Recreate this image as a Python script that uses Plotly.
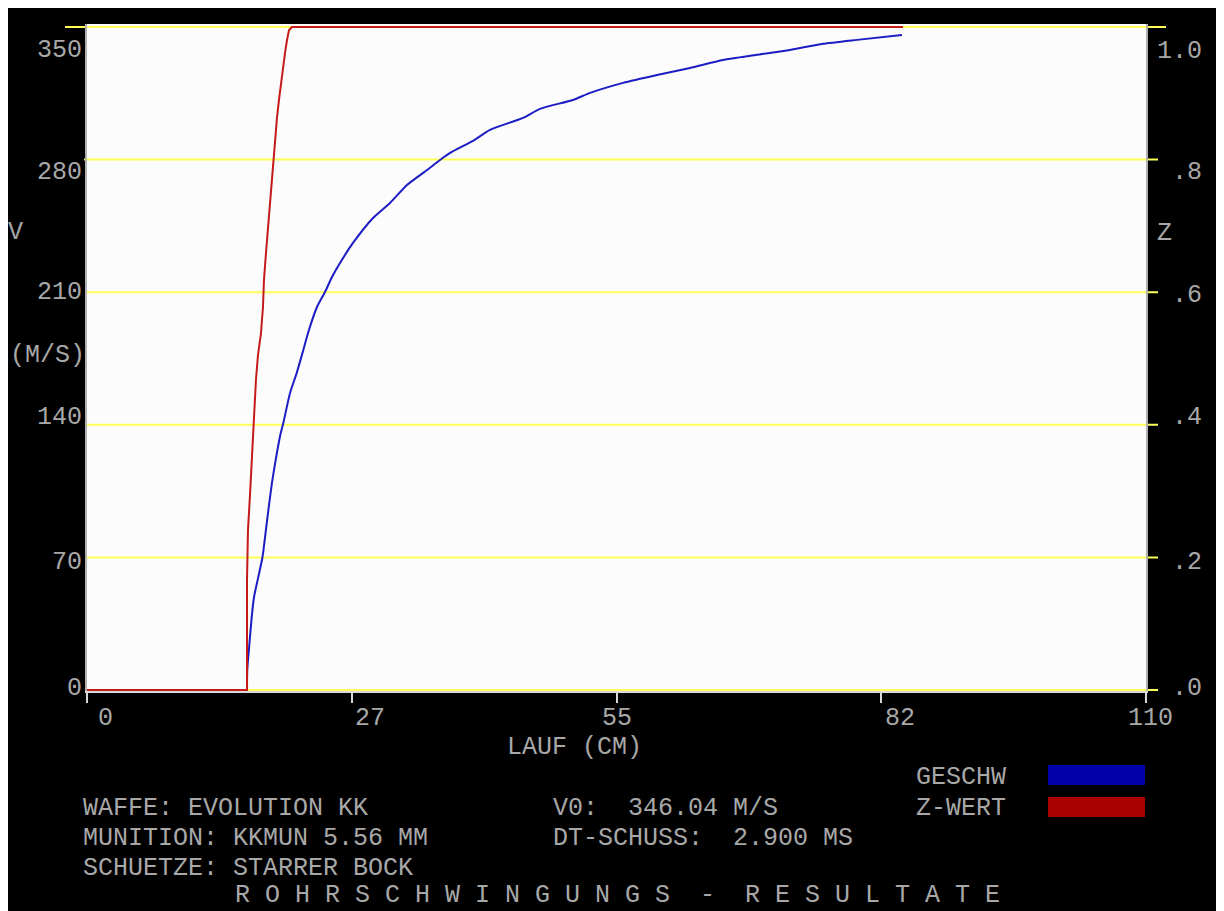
import plotly.graph_objects as go

# ---------------- data ----------------
X_GESCHW = [16.62, 16.65, 16.86, 17.11, 17.35, 17.79, 18.23, 18.67, 19.19, 19.53,
            20.05, 20.39, 21.09, 21.78, 22.47, 22.96, 23.89, 24.72, 25.45, 26.28,
            27.63, 29.71, 31.47, 33.24, 35.32, 36.67, 37.71, 40.09, 41.86, 45.29,
            47.05, 50.48, 52.25, 55.68, 59.21, 62.64, 66.06, 69.59, 73.02, 76.45,
            79.98, 84.65]
V_GESCHW = [0.0, 10.6, 23.8, 38.5, 49.1, 59.6, 70.2, 88.1, 108.6, 119.4,
            134.0, 140.9, 156.8, 167.3, 179.5, 188.5, 202.2, 210.1, 218.0, 225.4,
            236.0, 249.2, 257.1, 266.6, 274.5, 279.8, 283.5, 289.9, 295.7, 302.0,
            306.8, 311.5, 315.2, 320.5, 324.7, 328.4, 332.6, 335.3, 337.9, 341.1,
            343.2, 345.8]

X_ZWERT = [0.0, 16.62, 16.62, 16.72, 16.93, 17.09, 17.35, 17.55, 17.76, 18.07,
           18.28, 18.38, 18.59, 18.80, 19.01, 19.22, 19.37, 19.53, 19.74, 19.94,
           20.15, 20.36, 20.57, 20.77, 20.98, 21.29, 84.76]
Z_WERT = [0.0, 0.0, 0.166, 0.241, 0.294, 0.344, 0.407, 0.468, 0.505, 0.538,
          0.578, 0.618, 0.659, 0.698, 0.739, 0.780, 0.804, 0.834, 0.864, 0.890,
          0.916, 0.940, 0.961, 0.980, 0.995, 1.0, 1.0]

X_TICKS = [0, 27.5, 55, 82.5, 110]
X_TICK_LABELS = ["0", "27", "55", "82", "110"]
V_TICKS = [0, 70, 140, 210, 280, 350]
V_TICK_LABELS = ["0", "70", "140", "210", "280", "350"]
Z_TICK_LABELS = [".0", ".2", ".4", ".6", ".8", "1.0"]

INFO_LEFT = ["WAFFE: EVOLUTION KK", "MUNITION: KKMUN 5.56 MM", "SCHUETZE: STARRER BOCK"]
INFO_MID = ["V0:  346.04 M/S", "DT-SCHUSS:  2.900 MS"]
TITLE = "R O H R S C H W I N G U N G S  -  R E S U L T A T E"
LEGEND_NAMES = ["GESCHW", "Z-WERT"]

# ---------------- styling / layout ----------------
# page offset of the figure (browser body margin)
OX, OY = 8, 8
W, H = 1211, 903
# plot area in page pixels
PL, PR, PT, PB = 87, 1146, 24, 691
V_MIN, V_MAX = -0.528, 351.584
FONT = dict(family="Liberation Mono, DejaVu Sans Mono, monospace", size=25, color="#a8a8a8")
YELLOW = "#ffff55"
BLUE_LINE, RED_LINE = "#1c1cc4", "#c41a1a"
BLUE_BOX, RED_BOX = "#0000aa", "#aa0000"


def fx(px):
    return (px - PL) / (PR - PL)


def fy(py):
    return (PB - py) / (PB - PT)


fig = go.Figure()
fig.add_trace(go.Scatter(x=X_ZWERT, y=Z_WERT, yaxis="y2", mode="lines",
                         line=dict(color=RED_LINE, width=2), name=LEGEND_NAMES[1],
                         showlegend=False))
fig.add_trace(go.Scatter(x=X_GESCHW, y=V_GESCHW, mode="lines",
                         line=dict(color=BLUE_LINE, width=2, shape="spline", smoothing=0.6),
                         name=LEGEND_NAMES[0], showlegend=False))

shapes = []
# yellow grid lines (extend past the plot frame as in the original)
grid_left = [87, 85, 85, 85, 84, 65]
grid_right = [1158, 1158, 1158, 1158, 1158, 1166]
for v, x0, x1 in zip(V_TICKS, grid_left, grid_right):
    shapes.append(dict(type="line", xref="paper", yref="y", x0=fx(x0), x1=fx(x1),
                       y0=v, y1=v, line=dict(color=YELLOW, width=2), layer="below"))

# legend colour boxes
for (y0, y1), col in zip([(765, 785), (797, 817)], [BLUE_BOX, RED_BOX]):
    shapes.append(dict(type="rect", xref="paper", yref="paper", x0=fx(1048), x1=fx(1145),
                       y0=fy(y1), y1=fy(y0), fillcolor=col, line=dict(width=0)))

annotations = []


def txt(text, px, py, anchor="left"):
    annotations.append(dict(text=text, x=fx(px), y=fy(py), xref="paper", yref="paper",
                            xanchor=anchor, yanchor="middle", showarrow=False, font=FONT,
                            borderpad=0))


# left axis labels
for lab, py in zip(V_TICK_LABELS, [688, 562, 417, 292, 172, 50]):
    txt(lab, 83, py, "right")
txt("V", 7, 232)
txt("(M/S)", 9, 355)
# right axis labels
for lab, py in zip(Z_TICK_LABELS, [688, 562, 417, 295, 172, 51]):
    txt(lab, 1203, py, "right")
txt("Z", 1156, 233)
# x labels
for lab, px in zip(X_TICK_LABELS, [105, 370, 617, 900, 1150]):
    txt(lab, px, 718, "center")
txt("LAUF (CM)", 574, 747, "center")
# info block
for s, py in zip(INFO_LEFT, [808, 838, 868]):
    txt(s, 82, py)
for s, py in zip(INFO_MID, [808, 838]):
    txt(s, 552, py)
txt(TITLE, 234, 895)
for s, py in zip(LEGEND_NAMES, [777, 808]):
    txt(s, 915, py)

axis_common = dict(showgrid=False, zeroline=False, showticklabels=False)
fig.update_layout(
    width=W, height=H,
    margin=dict(l=PL - OX, r=(OX + W) - PR, t=PT - OY, b=(OY + H) - PB, pad=0),
    paper_bgcolor="#000000",
    plot_bgcolor="#fcfcfc",
    showlegend=False,
    xaxis=dict(range=[0, 110], tickvals=X_TICKS, ticks="outside", ticklen=10, tickwidth=2,
               tickcolor="#d8d8d8", showline=True, linecolor="#d8d8d8", linewidth=2,
               **axis_common),
    yaxis=dict(range=[V_MIN, V_MAX], showline=True, linecolor="#b0b0b0", linewidth=2,
               ticks="", **axis_common),
    yaxis2=dict(range=[V_MIN / 350, V_MAX / 350], overlaying="y", side="right",
                showline=True, linecolor="#b0b0b0", linewidth=2, ticks="", **axis_common),
    shapes=shapes,
    annotations=annotations,
)

fig.write_html("out.html")
